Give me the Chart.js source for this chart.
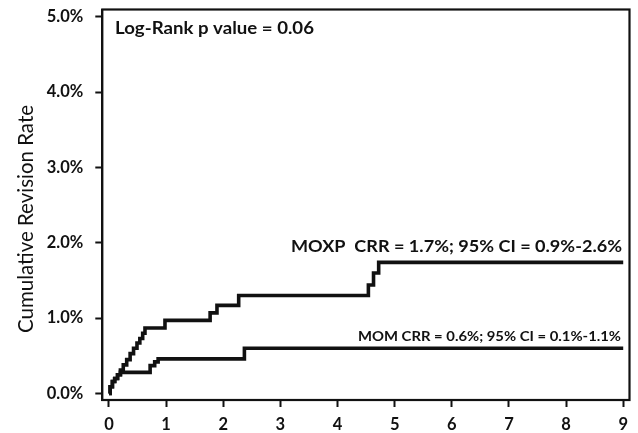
<!DOCTYPE html>
<html>
<head>
<meta charset="utf-8">
<script src="https://cdn.jsdelivr.net/npm/chart.js@4/dist/chart.umd.min.js"></script>
<style>
  html, body { margin: 0; padding: 0; background: #fff; }
  #wrap { width: 638px; height: 433px; position: relative; }
</style>
</head>
<body>
<div id="wrap"><canvas id="c"></canvas></div>
<script>
// ---- data ----
const xTicks = [0, 1, 2, 3, 4, 5, 6, 7, 8, 9];
const yTicks = [0, 1, 2, 3, 4, 5];
const moxpTimes = [0, 0.02, 0.06, 0.10, 0.15, 0.20, 0.25, 0.31, 0.37, 0.43, 0.49, 0.54, 0.59, 0.63, 0.98, 1.77, 1.89, 2.27, 4.54, 4.63, 4.72, 9.0];
const moxpRates = [0, 0.09, 0.16, 0.20, 0.25, 0.31, 0.38, 0.45, 0.53, 0.60, 0.67, 0.73, 0.80, 0.87, 0.97, 1.07, 1.17, 1.30, 1.44, 1.60, 1.74, 1.74];
const momTimes = [0, 0.02, 0.06, 0.10, 0.15, 0.20, 0.72, 0.80, 0.86, 2.37, 9.0];
const momRates = [0, 0.09, 0.16, 0.20, 0.25, 0.28, 0.37, 0.42, 0.46, 0.60, 0.60];
const yTitle = 'Cumulative Revision Rate';
const pText = 'Log-Rank p value = 0.06';
const moxpText = 'MOXP  CRR = 1.7%; 95% CI = 0.9%-2.6%';
const momText = 'MOM CRR = 0.6%; 95% CI = 0.1%-1.1%';

const FONT = 'Lato, "Open Sans", "DejaVu Sans", sans-serif';

function drawFitted(ctx, text, x, y, align, font, targetWidth) {
  ctx.save();
  ctx.font = font;
  ctx.fillStyle = '#111';
  ctx.textBaseline = 'alphabetic';
  const w = ctx.measureText(text).width;
  const s = targetWidth / w;
  ctx.translate(x, y);
  ctx.scale(s, 1);
  ctx.textAlign = align;
  ctx.fillText(text, 0, 0);
  ctx.restore();
}

const annot = {
  id: 'annot',
  afterDraw(chart) {
    const ctx = chart.ctx;
    const a = chart.chartArea;
    ctx.save();
    ctx.strokeStyle = '#111';
    ctx.lineWidth = 2.2;
    ctx.strokeRect(a.left, a.top, a.right - a.left, a.bottom - a.top);
    ctx.restore();
    drawFitted(ctx, pText, 115, 34, 'left', 'bold 16.5px ' + FONT, 199);
    drawFitted(ctx, moxpText, 622, 252, 'right', 'bold 17.5px ' + FONT, 331);
    drawFitted(ctx, momText, 621, 341, 'right', 'bold 12.5px ' + FONT, 263);
    // y title (rotated, centred at x=26, y=219)
    ctx.save();
    ctx.font = '21px ' + FONT;
    ctx.fillStyle = '#111';
    const tw = ctx.measureText(yTitle).width;
    const s = 228 / tw;
    ctx.translate(26, 219);
    ctx.rotate(-Math.PI / 2);
    ctx.scale(s, 1);
    ctx.textAlign = 'center';
    ctx.textBaseline = 'middle';
    ctx.fillText(yTitle, 0, 0);
    ctx.restore();
  }
};

const toPts = (ts, vs) => ts.map((t, i) => ({ x: t, y: vs[i] }));

new Chart(document.getElementById('c'), {
  type: 'line',
  data: {
    datasets: [
      { label: 'MOM', data: toPts(momTimes, momRates), borderColor: '#111', borderWidth: 3.6, pointRadius: 0, stepped: true, fill: false },
      { label: 'MOXP', data: toPts(moxpTimes, moxpRates), borderColor: '#111', borderWidth: 3.6, pointRadius: 0, stepped: true, fill: false }
    ]
  },
  options: {
    responsive: true,
    maintainAspectRatio: false,
    animation: false,
    layout: { padding: { left: 0, top: 9.5, right: 8.5, bottom: 0 } },
    plugins: { legend: { display: false }, tooltip: { enabled: false } },
    scales: {
      x: {
        type: 'linear',
        min: -0.117, max: 9.11,
        afterBuildTicks: s => { s.ticks = xTicks.map(v => ({ value: v })); },
        afterFit: s => { s.height = 33; s.paddingLeft = 0; s.paddingRight = 0; },
        grid: { drawOnChartArea: false, drawTicks: true, tickLength: 7, tickWidth: 2, tickColor: '#111' },
        border: { display: true, color: '#111', width: 2 },
        ticks: { color: '#111', font: { family: FONT, size: 16.5, weight: 'bold' }, padding: 8, maxRotation: 0, autoSkip: false }
      },
      y: {
        type: 'linear',
        min: -0.086, max: 5.096,
        afterBuildTicks: s => { s.ticks = yTicks.map(v => ({ value: v })); },
        afterFit: s => { s.width = 102.3; s.paddingTop = 0; s.paddingBottom = 0; },
        grid: { drawOnChartArea: false, drawTicks: true, tickLength: 7, tickWidth: 2, tickColor: '#111' },
        border: { display: true, color: '#111', width: 2 },
        ticks: { color: '#111', font: { family: FONT, size: 16.5, weight: 'bold' }, padding: 12, autoSkip: false,
          callback: v => Number(v).toFixed(1) + '%' }
      }
    }
  },
  plugins: [annot]
});
</script>
</body>
</html>
